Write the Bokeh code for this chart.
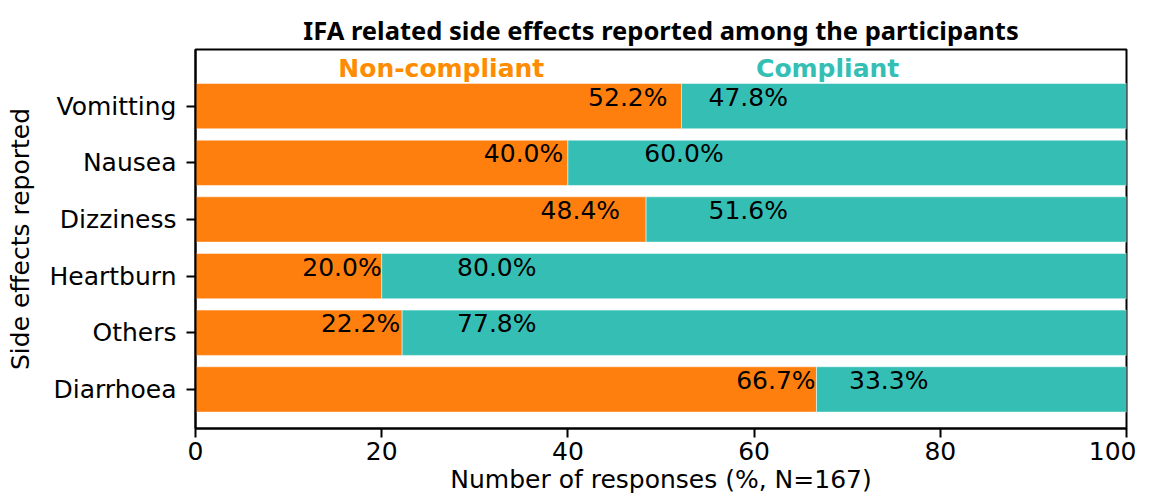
from bokeh.plotting import figure
from bokeh.models import Range1d, FixedTicker, ColumnDataSource
from bokeh.core.properties import value
from bokeh.embed import file_html
from bokeh.resources import INLINE

# ---- data (top to bottom as shown) ----
categories = ["Vomitting", "Nausea", "Dizziness", "Heartburn", "Others", "Diarrhoea"]
non_compliant = [52.2, 40.0, 48.4, 20.0, 22.2, 66.7]
compliant = [47.8, 60.0, 51.6, 80.0, 77.8, 33.3]
# label anchor positions (data units) as placed in the original
nc_label_x = [50.7, 39.5, 45.6, 20.0, 22.0, 66.6]
c_label_x = [55.1, 48.2, 55.1, 28.1, 28.1, 70.2]
x_ticks = [0, 20, 40, 60, 80, 100]

ORANGE = "#ff7f0e"
TEAL = "#35bfb4"
FONT = "DejaVu Sans"
TXT_DY = -9  # baseline correction in screen px

n = len(categories)
ypos = [n - 1 - i for i in range(n)]
totals = [a + b for a, b in zip(non_compliant, compliant)]

src = ColumnDataSource(dict(
    y=ypos, nc=non_compliant, total=totals,
    nc_lab=[f"{v:.1f}%" for v in non_compliant],
    c_lab=[f"{v:.1f}%" for v in compliant],
    nc_x=nc_label_x, c_x=c_label_x,
))

p = figure(width=1136, height=496, output_backend="svg", toolbar_location=None,
           x_range=Range1d(0, 100), y_range=Range1d(-0.69, 6.0),
           min_border_left=195, min_border_right=10, min_border_top=49,
           min_border_bottom=67)

p.hbar(y="y", left=0, right="nc", height=0.8, source=src,
       fill_color=ORANGE, line_color="white", line_width=0.5)
p.hbar(y="y", left="nc", right="total", height=0.8, source=src,
       fill_color=TEAL, line_color="white", line_width=0.5)

p.text(x="nc_x", y="y", text="nc_lab", source=src, text_align="right",
       text_baseline="alphabetic", y_offset=TXT_DY, text_font=value(FONT),
       text_font_size="25px", text_color="black")
p.text(x="c_x", y="y", text="c_lab", source=src, text_align="left",
       text_baseline="alphabetic", y_offset=TXT_DY, text_font=value(FONT),
       text_font_size="25px", text_color="black")

p.text(x=[26.4], y=[5.5], text=["Non-compliant"], text_align="center",
       text_baseline="alphabetic", y_offset=TXT_DY, text_font=value(FONT),
       text_font_size="25px", text_font_style="bold", text_color="#ff8c00")
p.text(x=[67.9], y=[5.5], text=["Compliant"], text_align="center",
       text_baseline="alphabetic", y_offset=TXT_DY, text_font=value(FONT),
       text_font_size="25px", text_font_style="bold", text_color=TEAL)

p.title.text = "IFA related side effects reported among the participants"
p.title.align = "center"
p.title.text_font = "Noto Sans"
p.title.text_font_style = "bold"
p.title.text_font_size = "25.5px"
p.title.text_color = "black"
p.title.standoff = 6

p.xgrid.visible = False
p.ygrid.visible = False
p.outline_line_color = "black"
p.outline_line_width = 2
p.outline_line_alpha = 1

p.xaxis.ticker = FixedTicker(ticks=x_ticks)
p.yaxis.ticker = FixedTicker(ticks=ypos)
p.yaxis.major_label_overrides = {y: c for y, c in zip(ypos, categories)}
p.xaxis.axis_label = "Number of responses (%, N=167)"
p.yaxis.axis_label = "Side effects reported"

for ax in (p.xaxis, p.yaxis):
    ax.axis_line_color = "black"
    ax.axis_line_width = 2
    ax.major_tick_line_color = "black"
    ax.major_tick_line_width = 2
    ax.major_tick_in = 0
    ax.major_tick_out = 9
    ax.minor_tick_line_color = None
    ax.major_label_text_font = FONT
    ax.major_label_text_font_size = "25px"
    ax.major_label_text_color = "black"
    ax.axis_label_text_font = FONT
    ax.axis_label_text_font_size = "25px"
    ax.axis_label_text_font_style = "normal"
    ax.axis_label_text_color = "black"

p.xaxis.major_label_standoff = 4
p.xaxis.axis_label_standoff = 2
p.yaxis.major_label_standoff = 10
p.yaxis.axis_label_standoff = 12

open("out.html", "w").write(file_html(p, INLINE))
